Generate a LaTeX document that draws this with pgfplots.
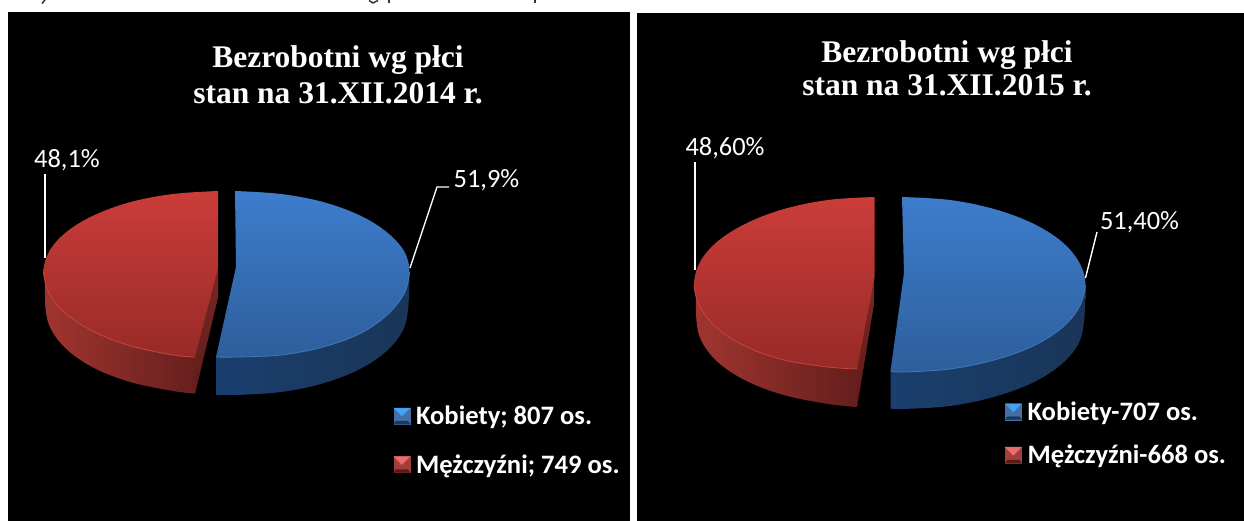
\documentclass[border=0pt]{standalone}
\usepackage{fontspec}
\setmainfont{Carlito}
\newfontfamily\titlefont{Liberation Serif}
\usepackage{pgfplots}
\pgfplotsset{compat=1.18}
\definecolor{bluetop}{HTML}{3D7DCC}
\definecolor{bluelow}{HTML}{2E5E9C}
\definecolor{bluerim}{HTML}{3F78BE}
\definecolor{redtop}{HTML}{CB3D39}
\definecolor{redlow}{HTML}{972A27}
\definecolor{redrim}{HTML}{C8453F}
\definecolor{HTMLb1}{HTML}{1A3F6E}
\definecolor{HTMLb2}{HTML}{142847}
\definecolor{HTMLb3}{HTML}{1A3558}
\definecolor{HTMLr1}{HTML}{A03530}
\definecolor{HTMLr2}{HTML}{7A2724}
\definecolor{HTMLr3}{HTML}{5E1C1A}
\pgfplotsset{
  panel/.style={
    scale only axis, anchor=south west, y dir=reverse, clip=false,
    axis line style={draw=none}, ticks=none,
    axis background/.style={fill=black},
  },
  bluetopface/.style={draw=none, forget plot, smooth, tension=0.6, top color=bluetop, bottom color=bluelow},
  redtopface/.style={draw=none, forget plot, smooth, tension=0.6, top color=redtop, bottom color=redlow},
  blueside/.style={draw=none, forget plot, smooth, tension=0.6, left color=HTMLb1, middle color=HTMLb2, right color=HTMLb3},
  redside/.style={draw=none, forget plot, smooth, tension=0.6, left color=HTMLr1, middle color=HTMLr2, right color=HTMLr3},
  rim/.style={forget plot, smooth, tension=0.6, line width=0.8pt, no marks},
  leader/.style={white, line width=1.4pt, forget plot, no marks},
  stub/.style={black!80, line width=1.5pt, forget plot, no marks},
  pielegend/.style={
    legend cell align=left,
    legend style={draw=none, fill=none, text=white, inner sep=0pt, outer sep=0pt,
      font=\bfseries\fontsize{26.6}{26.6}\selectfont,
      row sep=#1, anchor=north west,
      nodes={inner sep=0pt, outer sep=0pt}, column sep=6pt},
  },
  bluekey/.style={legend image code/.code={
    \fill[bluelow!90!white] (0pt,-8pt) rectangle (16pt,8pt);
    \fill[blue!45!cyan!70!white!70!bluetop] (0pt,8pt) -- (16pt,8pt) -- (8pt,0pt) -- cycle;
    \fill[bluelow!60!black] (0pt,-8pt) -- (16pt,-8pt) -- (14pt,-5pt) -- (2pt,-5pt) -- cycle;
  }},
  redkey/.style={legend image code/.code={
    \fill[redlow!90!white] (0pt,-8pt) rectangle (16pt,8pt);
    \fill[red!45!white!60!redtop] (0pt,8pt) -- (16pt,8pt) -- (8pt,0pt) -- cycle;
    \fill[redlow!60!black] (0pt,-8pt) -- (16pt,-8pt) -- (14pt,-5pt) -- (2pt,-5pt) -- cycle;
  }},
}
\tikzset{
  charttitle/.style={white, align=center, font=\titlefont\bfseries\fontsize{31.5}{#1}\selectfont},
  pct/.style={white, font=\fontsize{26.4}{26.4}\selectfont},
}
\begin{document}
\begin{tikzpicture}[x=1pt,y=1pt]
\useasboundingbox (0,0) rectangle (1244,521);

% 2014
\begin{axis}[panel, at={(8pt,0pt)}, width=622pt, height=509pt,
  xmin=8, xmax=630, ymin=12, ymax=521, pielegend=28.3pt,
  legend style={at={(0.62,0.226)}}]
\addplot[blueside] coordinates {(216,395) (236,395) (281,392) (322,383.6) (358,370) (385,352.5) (402,332) (408,310) (409.5,272)} -- (axis cs:216,357) -- cycle;
\addplot[redside] coordinates {(45,272) (45.5,308) (51.4,330) (68.6,351) (96,369) (132,382.5) (173,391) (195,393.5)} -- (axis cs:218,297) -- (axis cs:218,272) -- cycle;
\addplot[draw=none, forget plot, top color=HTMLr2, bottom color=HTMLr3] coordinates {(218,268) (195,357) (195,393.5) (218,297)} -- cycle;
\addplot[bluetopface] coordinates {(235,191) (281,194) (323,202) (359,215) (386,231.5) (404,251) (409.5,272) (404,294) (386,316) (359,334) (323,347) (281,355) (236,357) (216,357)} -- (axis cs:236,267) -- cycle;
\addplot[redtopface] coordinates {(218,191) (173,194) (130.7,202) (94.6,215) (67,231.5) (49.4,251) (43.5,272) (49.4,294) (67,314.5) (94.6,332) (131,346) (173,355) (195,357)} -- (axis cs:218,268) -- cycle;
\addplot[rim, bluerim] coordinates {(409.5,272) (404,294) (386,316) (359,334) (323,347) (281,355) (236,357) (216,357)};
\addplot[rim, redrim] coordinates {(43.5,272) (49.4,294) (67,314.5) (94.6,332) (131,346) (173,355) (195,357)};
\addplot[leader] coordinates {(45,174) (45,258)};
\addplot[leader] coordinates {(449,187) (437,187) (410,268)};
% tails of a line of text that the top edge of the picture cuts away
\addplot[stub] coordinates {(45,0) (42,3.5)};
\addplot[stub] coordinates {(369,0.5) (373,3) (378,0.5)};
\addplot[stub] coordinates {(389,0) (389,3.5)};
\addplot[stub] coordinates {(535,0) (535,3.5)};
\node[charttitle=36pt] at (axis cs:338,75) {Bezrobotni wg płci\\stan na 31.XII.2014 r.};
\node[pct] at (axis cs:67,160) {48,1\%};
\node[pct] at (axis cs:486.5,180) {51,9\%};
\addlegendimage{bluekey}
\addlegendentry{Kobiety; 807 os.}
\addlegendimage{redkey}
\addlegendentry{Mężczyźni; 749 os.}
\end{axis}

% 2015
\begin{axis}[panel, at={(637pt,0pt)}, width=607pt, height=508pt,
  xmin=637, xmax=1244, ymin=13, ymax=521, pielegend=23.3pt,
  legend style={at={(0.6066,0.235)}}]
\addplot[blueside] coordinates {(890.5,408.5) (903,409) (950,406) (993.5,397) (1031,383.5) (1060,365.5) (1078,344.5) (1084,322) (1085.5,285)} -- (axis cs:890.5,371) -- cycle;
\addplot[redside] coordinates {(696,285) (696.5,321) (702.5,343) (720,364) (748.6,382) (785.5,395.5) (828.4,404) (857,407)} -- (axis cs:874.5,300) -- (axis cs:874.5,285) -- cycle;
\addplot[draw=none, forget plot, top color=HTMLr2, bottom color=HTMLr3] coordinates {(874.5,278) (857,369) (857,407) (874.5,300)} -- cycle;
\addplot[bluetopface] coordinates {(902,197) (950,200) (994,209) (1032,223) (1061,241) (1079,262) (1085.5,285) (1079,307.5) (1061,328.5) (1032,346.5) (994,360) (950,369) (903,372) (890.5,371)} -- (axis cs:904,273) -- cycle;
\addplot[redtopface] coordinates {(874.5,197) (827.8,200) (784,209) (747,223) (718,241) (700,262) (694,285) (700,307) (718,329) (747,347) (784,360) (827.8,367) (857,369)} -- (axis cs:874.5,278) -- cycle;
\addplot[rim, bluerim] coordinates {(1085.5,285) (1079,307.5) (1061,328.5) (1032,346.5) (994,360) (950,369) (903,372) (890.5,371)};
\addplot[rim, redrim] coordinates {(694,285) (700,307) (718,329) (747,347) (784,360) (827.8,367) (857,369)};
\addplot[leader] coordinates {(695,162) (695,270)};
\addplot[leader] coordinates {(1097,232) (1085.5,278)};
\node[charttitle=33pt] at (axis cs:947,68.5) {Bezrobotni wg płci\\stan na 31.XII.2015 r.};
\node[pct] at (axis cs:725,148) {48,60\%};
\node[pct] at (axis cs:1139.5,222) {51,40\%};
\addlegendimage{bluekey}
\addlegendentry{Kobiety-707 os.}
\addlegendimage{redkey}
\addlegendentry{Mężczyźni-668 os.}
\end{axis}
\end{tikzpicture}
\end{document}
